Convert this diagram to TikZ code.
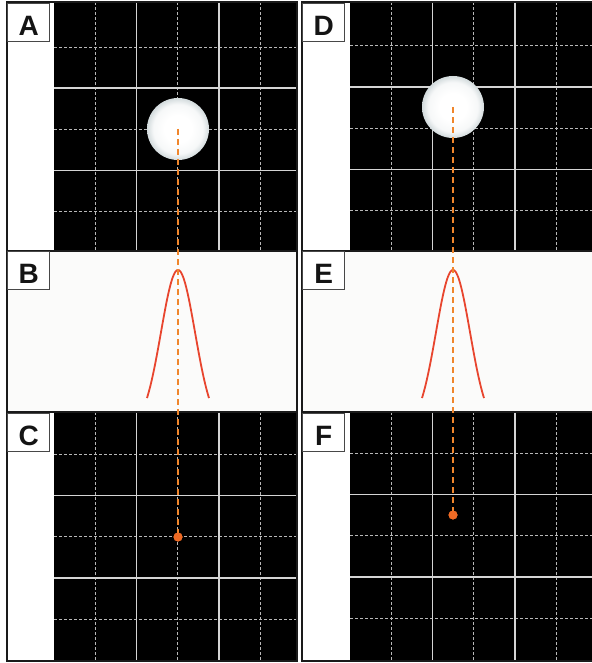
\documentclass[tikz,border=0pt]{standalone}
\usepackage{fontspec}
\setmainfont{Liberation Sans}

\definecolor{framegray}{HTML}{1A1A1A}
\definecolor{boxgray}{HTML}{474747}
\definecolor{majorgray}{HTML}{D4D4D4}
\definecolor{minorgray}{HTML}{B8B8B8}
\definecolor{beamorange}{HTML}{F0862C}
\definecolor{dotorange}{HTML}{EE6A24}
\definecolor{curvered}{HTML}{E8452E}
\definecolor{paper}{HTML}{FBFBFA}
\definecolor{ballgray}{HTML}{D3DBDD}

\pgfdeclareradialshading{ballshade}{\pgfpoint{0bp}{0bp}}{%
    color(0bp)=(white); color(11bp)=(white); color(20bp)=(white!80!ballgray);
    color(25bp)=(ballgray); color(50bp)=(ballgray)}

\begin{document}
\begin{tikzpicture}[x=1pt, y=-1pt,
    frame/.style={draw=framegray, line width=2.5pt},
    majorgrid/.style={draw=majorgray, line width=1.6pt},
    minorgrid/.style={draw=minorgray, line width=0.9pt, dash pattern=on 3pt off 2pt},
    labelbox/.style={draw=boxgray, line width=1.3pt, fill=white, anchor=north west,
        minimum width=42pt, inner sep=0pt, text height=32pt, text depth=6pt,
        text=black!92, font=\fontsize{28}{28}\selectfont\bfseries},
    ball/.style={circle, minimum size=62pt, inner sep=0pt, shading=ballshade},
    spot/.style={circle, fill=dotorange, minimum size=9pt, inner sep=0pt},
    beam/.style={draw=beamorange, line width=1.6pt, dash pattern=on 6pt off 4pt},
    profile/.style={draw=curvered, line width=1.8pt}]
    \useasboundingbox (0,0) rectangle (591,663);
    \fill[white] (0,0) rectangle (591,663);

    % screens with grids
    \foreach \gx/\gy/\gr/\go in {54/2/297/5.8, 54/412/297/413, 350/2/596/4.6, 350/412/596/412} {
        \fill[white] ({\gx-47},\gy) rectangle (\gx,{\gy+249});
        \fill[black] (\gx,\gy) rectangle (\gr,{\gy+249});
        \foreach \k in {1,3,5} {
            \draw[minorgrid] ({\gx+41.2*\k},\gy) -- ({\gx+41.2*\k},{\gy+249});
            \draw[minorgrid] (\gx,{\go+41.2*\k}) -- (\gr,{\go+41.2*\k});
        }
        \foreach \k in {2,4} {
            \draw[majorgrid] ({\gx+41.2*\k},\gy) -- ({\gx+41.2*\k},{\gy+249});
            \draw[majorgrid] (\gx,{\go+41.2*\k}) -- (\gr,{\go+41.2*\k});
        }
    }

    % profile panels
    \fill[paper] (7,251) rectangle (297,412);
    \fill[paper] (302,251) rectangle (596,412);

    % frames
    \draw[frame] (7,2) rectangle (297,661);
    \draw[frame] (7,251) -- (297,251) (7,412) -- (297,412);
    \draw[frame] (302,2) rectangle (596,661);
    \draw[frame] (302,251) -- (596,251) (302,412) -- (596,412);

    % panel letters
    \node[labelbox] (labA) at (7,3) {A};
    \node[labelbox] (labB) at (7,251) {B};
    \node[labelbox] (labC) at (7,413) {C};
    \node[labelbox] (labD) at (302,3) {D};
    \node[labelbox] (labE) at (302,251) {E};
    \node[labelbox] (labF) at (302,413) {F};

    % spheres and their profiles
    \node[ball] (ballA) at (178,129) {};
    \node[ball] (ballD) at (453,107) {};
    \draw[profile] plot[domain=-31:31, samples=61, smooth] ({178+\x}, {428-158*exp(-\x*\x/578)});
    \draw[profile] plot[domain=-31:31, samples=61, smooth] ({453+\x}, {428-158*exp(-\x*\x/578)});

    % detected positions
    \node[spot] (dotC) at (178,537) {};
    \node[spot] (dotF) at (453,515) {};
    \draw[beam] (ballA.center) -- (dotC.center);
    \draw[beam] (ballD.center) -- (dotF.center);
    \node[spot] at (dotC) {};
    \node[spot] at (dotF) {};
\end{tikzpicture}
\end{document}
